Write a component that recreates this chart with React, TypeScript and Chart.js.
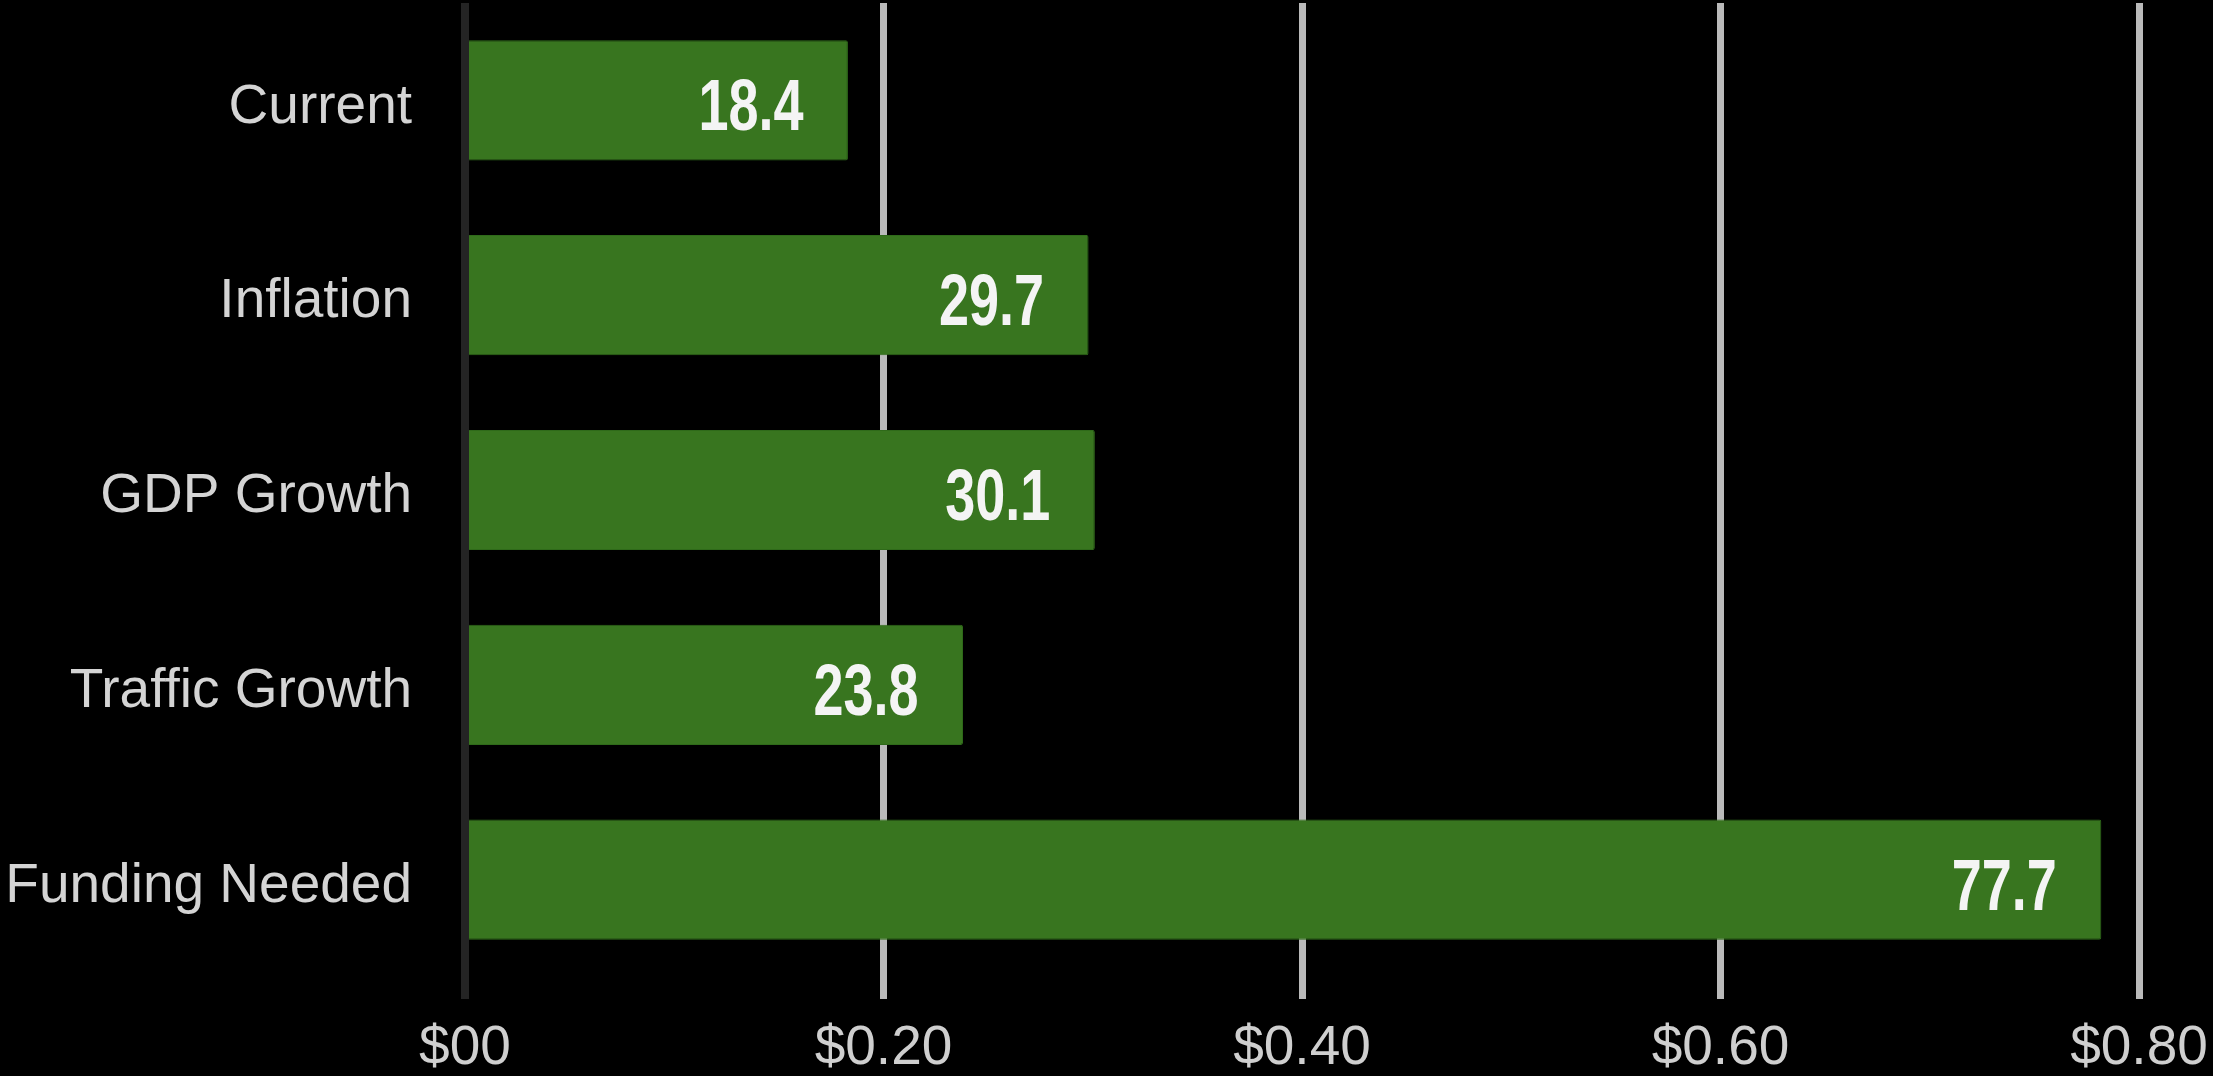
import React, { useEffect, useRef } from "react";
import { Chart, registerables } from "chart.js";

Chart.register(...registerables);

const categories = ["Current", "Inflation", "GDP Growth", "Traffic Growth", "Funding Needed"];
const barValues = [0.183, 0.298, 0.301, 0.238, 0.782];
const valueLabels = ["18.4", "29.7", "30.1", "23.8", "77.7"];
const tickLabels = ["$00", "$0.20", "$0.40", "$0.60", "$0.80"];

const valueLabelPlugin = {
  id: "valueLabels",
  afterDatasetsDraw(chart: any) {
    const ctx = chart.ctx;
    const meta = chart.getDatasetMeta(0);
    ctx.save();
    ctx.font = 'bold 72px "Liberation Sans", Arial, sans-serif';
    ctx.fillStyle = "#f4f4f4";
    ctx.textAlign = "center";
    ctx.textBaseline = "alphabetic";
    meta.data.forEach((bar: any, i: number) => {
      ctx.save();
      ctx.translate(bar.x - 97, bar.y + 30);
      ctx.scale(0.75, 1);
      ctx.fillText(valueLabels[i], 0, 0);
      ctx.restore();
    });
    ctx.restore();
  },
};

export default function App() {
  const ref = useRef<HTMLCanvasElement | null>(null);
  useEffect(() => {
    if (!ref.current) return;
    const chart = new Chart(ref.current, {
      type: "bar",
      data: {
        labels: categories,
        datasets: [
          {
            data: barValues,
            backgroundColor: "#38751f",
            borderColor: "#2f6a1a",
            borderWidth: 1,
            borderRadius: 2,
            barPercentage: 0.617,
            categoryPercentage: 1,
          },
        ],
      },
      options: {
        indexAxis: "y",
        animation: false,
        responsive: true,
        maintainAspectRatio: false,
        layout: { padding: { top: 3, right: 74, bottom: 0, left: 0 } },
        plugins: { legend: { display: false }, tooltip: { enabled: false } },
        scales: {
          x: {
            min: 0,
            max: 0.8,
            ticks: {
              stepSize: 0.2,
              color: "#cfcfcf",
              font: { family: '"Liberation Sans", Arial, sans-serif', size: 55 },
              padding: 17,
              callback: (_v: any, i: number) => tickLabels[i],
            },
            grid: {
              color: (c: any) => (c.index === 0 ? "#242424" : "#bababa"),
              lineWidth: (c: any) => (c.index === 0 ? 8 : 7),
              tickLength: 22,
              drawTicks: true,
            },
            border: { display: false },
            afterFit: (s: any) => {
              s.height = 99;
              s.paddingLeft = 0;
              s.paddingRight = 0;
            },
          },
          y: {
            ticks: {
              color: "#d4d4d4",
              font: { family: '"Liberation Sans", Arial, sans-serif', size: 55 },
              padding: 53,
              labelOffset: 7,
            },
            grid: { display: false, drawTicks: false },
            border: { display: false },
            afterFit: (s: any) => {
              s.width = 465;
              s.paddingTop = 0;
              s.paddingBottom = 0;
            },
          },
        },
      },
      plugins: [valueLabelPlugin],
    });
    return () => chart.destroy();
  }, []);
  return (
    <div style={{ position: "fixed", left: 0, top: 0, width: 2213, height: 1076, background: "#000" }}>
      <canvas ref={ref} />
    </div>
  );
}
